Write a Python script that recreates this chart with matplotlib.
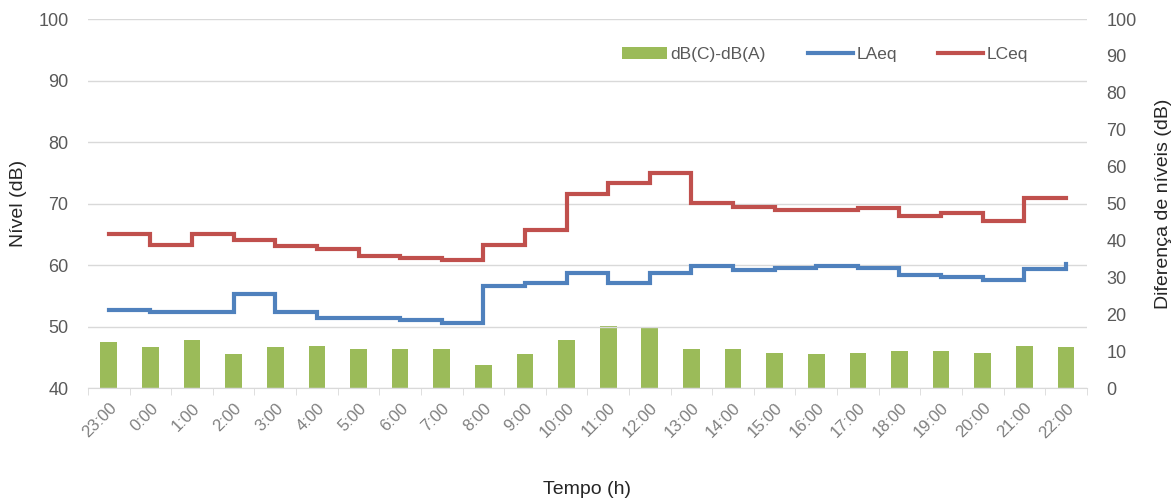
import numpy as np
import matplotlib
matplotlib.use("Agg")
import matplotlib.pyplot as plt
from matplotlib.patches import Patch
from matplotlib.lines import Line2D

plt.rcParams['font.family'] = ['Liberation Sans', 'DejaVu Sans']

# ------------------------------------------------------------
# Data
# ------------------------------------------------------------
hours = ['23:00', '0:00', '1:00', '2:00', '3:00', '4:00', '5:00', '6:00',
         '7:00', '8:00', '9:00', '10:00', '11:00', '12:00', '13:00', '14:00',
         '15:00', '16:00', '17:00', '18:00', '19:00', '20:00', '21:00', '22:00']

laeq = [52.7, 52.4, 52.4, 55.3, 52.3, 51.4, 51.4, 51.1, 50.6, 56.6, 57.0, 58.7,
        57.0, 58.7, 59.8, 59.2, 59.5, 59.8, 59.5, 58.4, 58.1, 57.6, 59.3, 60.1]

lceq = [65.1, 63.2, 65.1, 64.0, 63.1, 62.6, 61.5, 61.1, 60.8, 63.2, 65.7, 71.5,
        73.4, 74.9, 70.1, 69.5, 68.9, 68.9, 69.2, 68.0, 68.4, 67.2, 70.9, 70.9]

diff_ca = [12.5, 11.1, 13.0, 9.2, 11.1, 11.5, 10.6, 10.6, 10.6, 6.3, 9.2, 13.0,
           16.8, 16.3, 10.5, 10.5, 9.6, 9.2, 9.6, 10.1, 10.1, 9.6, 11.5, 11.1]

blue = '#4F81BD'
red = '#C0504D'
green = '#9BBB59'
txt = '#595959'

x = np.arange(len(hours))

fig = plt.figure(figsize=(11.75, 5.01), dpi=100)
ax = fig.add_axes([0.0749, 0.2255, 0.850, 0.7365])
ax2 = ax.twinx()

# bars on the right axis, lines on the left axis drawn on top
ax2.bar(x, diff_ca, width=0.4, color=green, zorder=2)
ax.set_zorder(ax2.get_zorder() + 1)
ax.patch.set_visible(False)

ax.plot(x, laeq, drawstyle='steps-post', color=blue, lw=3, solid_joinstyle='miter')
ax.plot(x, lceq, drawstyle='steps-post', color=red, lw=3, solid_joinstyle='miter')

ax.set_xlim(-0.5, len(hours) - 0.5)
ax.set_ylim(40, 100)
ax2.set_ylim(0, 100)
ax.set_yticks(np.arange(40, 101, 10))
ax2.set_yticks(np.arange(0, 101, 10))

ax.yaxis.grid(True, color='#D9D9D9', lw=1)
ax.set_axisbelow(True)

for a in (ax, ax2):
    for s in a.spines.values():
        s.set_visible(False)
ax.spines['bottom'].set_visible(True)
ax.spines['bottom'].set_color('#D9D9D9')

ax.set_xticks(x)
ax.set_xticklabels(hours, rotation=45, ha='right', rotation_mode='anchor')
ax.set_xticks(np.arange(-0.5, len(hours), 1), minor=True)
ax.tick_params(axis='x', which='major', length=0, pad=9, labelsize=12, labelcolor='#7F7F7F')
ax.tick_params(axis='x', which='minor', length=5, color='#D9D9D9')
ax.tick_params(axis='y', length=0, labelsize=13, labelcolor=txt, pad=14)
ax2.tick_params(axis='y', length=0, labelsize=13, labelcolor=txt, pad=14)

ax.set_xlabel('Tempo (h)', fontsize=14, color='#262626', labelpad=29)
ax.set_ylabel('Nível (dB)', fontsize=14, color='#262626', labelpad=8)
ax2.set_ylabel('Diferença de níveis (dB)', fontsize=14, color='#262626', labelpad=13)

handles = [Patch(facecolor=green, edgecolor='none'),
           Line2D([0], [0], color=blue, lw=3),
           Line2D([0], [0], color=red, lw=3)]
ax.legend(handles, ['dB(C)-dB(A)', 'LAeq', 'LCeq'], ncol=3, frameon=False,
          loc='center', bbox_to_anchor=(0.738, 0.905), fontsize=12.5,
          labelcolor=txt, handlelength=2.6, handletextpad=0.2, columnspacing=2.4)

plt.savefig('out.png', dpi=100)
